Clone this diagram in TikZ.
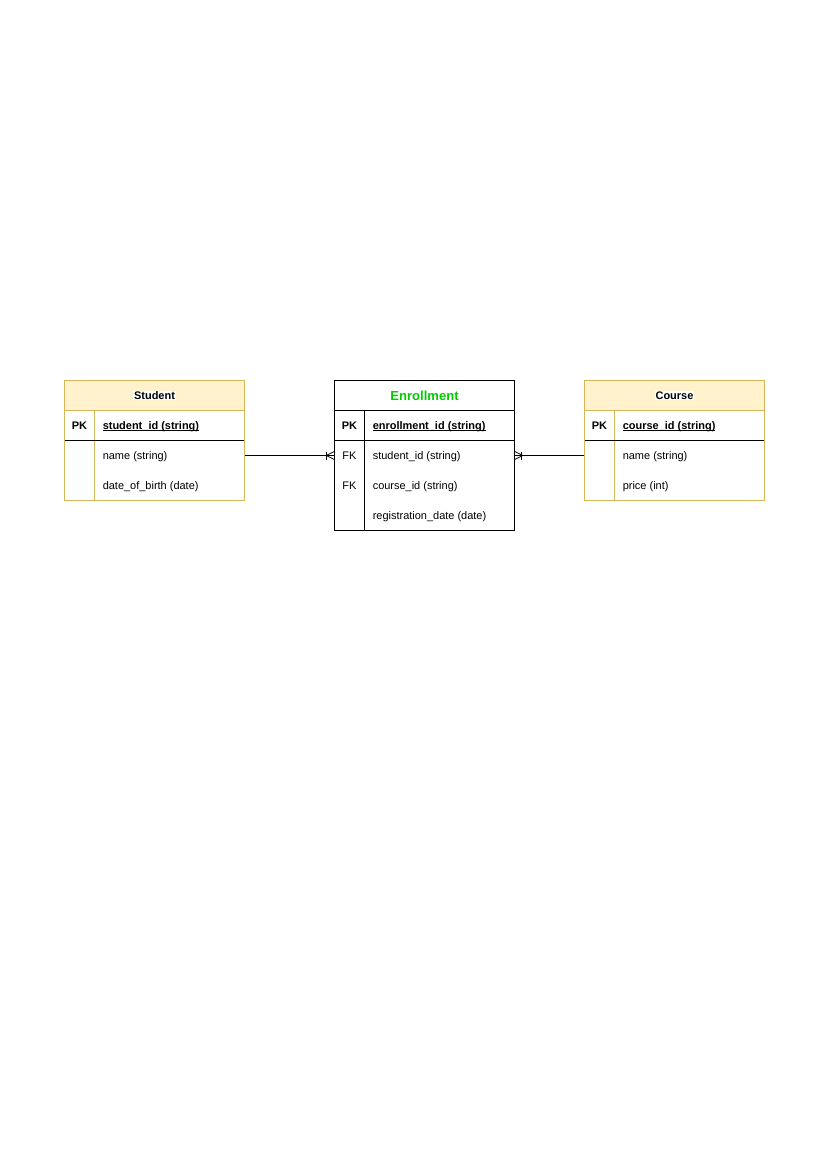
\documentclass[tikz,border=0pt]{standalone}
\usepackage{fontspec}
\setmainfont{Liberation Sans}
\definecolor{hdrfill}{HTML}{FFF2CC}
\definecolor{hdrline}{HTML}{D6B656}
\definecolor{titlegreen}{HTML}{00CC00}
% underline set close to the baseline
\newcommand\keyline[1]{\setbox0\hbox{#1}\rlap{\rule[-1.1pt]{\wd0}{0.55pt}}\box0}
\begin{document}
\begin{tikzpicture}[x=0.72pt,y=-0.72pt,
  txt/.style={inner sep=0pt,anchor=base,font=\fontsize{7.9}{9.5}\selectfont},
  keytxt/.style={txt,font=\fontsize{7.9}{9.5}\selectfont\bfseries},
  field/.style={txt,anchor=base west},
  rowbox/.style={minimum width=129.6pt,minimum height=21.6pt,inner sep=0pt},
  yellowtbl/.style={draw=hdrline,line width=0.6pt},
  blacktbl/.style={draw=black,line width=0.6pt},
  rel/.style={draw=black,line width=0.6pt}]
\useasboundingbox (0,0) rectangle (827,1169);

% ---------- Student ----------
\fill[hdrfill] (64.5,380.5) rectangle (244.5,410.5);
\draw[yellowtbl] (64.5,410.5) -- (244.5,410.5);
\draw[yellowtbl] (94.5,410.5) -- (94.5,500.5);
\draw[black,line width=0.6pt] (64.5,440.5) -- (244.5,440.5);
\node[yellowtbl,rectangle,minimum width=129.6pt,minimum height=86.4pt,inner sep=0pt] (student) at (154.5,440.5) {};
\node[keytxt,fill=white,inner sep=0.5pt] (stitle) at (154.5,399.3) {Student};
\node[keytxt] (spk) at (79.5,429.3) {PK};
\node[keytxt,anchor=base west] (sid) at (102.5,429.3) {\keyline{student\_id (string)}};
\node[rowbox] (srow1) at (154.5,455.5) {};
\node[field] (sname) at (102.5,459.3) {name (string)};
\node[field] (sdob) at (102.5,489.3) {date\_of\_birth (date)};

% ---------- Enrollment ----------
\node[blacktbl,rectangle,minimum width=129.6pt,minimum height=108pt,inner sep=0pt] (enroll) at (424.5,455.5) {};
\draw[blacktbl] (334.5,410.5) -- (514.5,410.5);
\draw[blacktbl] (334.5,440.5) -- (514.5,440.5);
\draw[blacktbl] (364.5,410.5) -- (364.5,530.5);
\node[txt,font=\fontsize{9.4}{11}\selectfont\bfseries,text=titlegreen] (etitle) at (424.5,400) {Enrollment};
\node[keytxt] (epk) at (349.5,429.3) {PK};
\node[keytxt,anchor=base west] (eid) at (372.5,429.3) {\keyline{enrollment\_id (string)}};
\node[rowbox] (erow1) at (424.5,455.5) {};
\node[txt] (efk1) at (349.5,459.3) {FK};
\node[field] (estud) at (372.5,459.3) {student\_id (string)};
\node[txt] (efk2) at (349.5,489.3) {FK};
\node[field] (ecourse) at (372.5,489.3) {course\_id (string)};
\node[field] (edate) at (372.5,519.3) {registration\_date (date)};

% ---------- Course ----------
\fill[hdrfill] (584.5,380.5) rectangle (764.5,410.5);
\draw[yellowtbl] (584.5,410.5) -- (764.5,410.5);
\draw[yellowtbl] (614.5,410.5) -- (614.5,500.5);
\draw[black,line width=0.6pt] (584.5,440.5) -- (764.5,440.5);
\node[yellowtbl,rectangle,minimum width=129.6pt,minimum height=86.4pt,inner sep=0pt] (course) at (674.5,440.5) {};
\node[keytxt,fill=white,inner sep=0.5pt] (ctitle) at (674.5,399.3) {Course};
\node[keytxt] (cpk) at (599.5,429.3) {PK};
\node[keytxt,anchor=base west] (cid) at (622.5,429.3) {\keyline{course\_id (string)}};
\node[rowbox] (crow1) at (674.5,455.5) {};
\node[field] (cname) at (622.5,459.3) {name (string)};
\node[field] (cprice) at (622.5,489.3) {price (int)};

% ---------- Relationships (one-or-many at Enrollment) ----------
\draw[rel] (srow1.east) -- (erow1.west);
\draw[rel] (erow1.west) ++(-8,0) ++(0,-4) -- ++(0,8);
\draw[rel] (erow1.west) ++(0,-4) -- ++(-8,4) -- ++(8,4);

\draw[rel] (crow1.west) -- (erow1.east);
\draw[rel] (erow1.east) ++(7,0) ++(0,-4) -- ++(0,8);
\draw[rel] (erow1.east) ++(0,-4) -- ++(8,4) -- ++(-8,4);
\end{tikzpicture}
\end{document}
